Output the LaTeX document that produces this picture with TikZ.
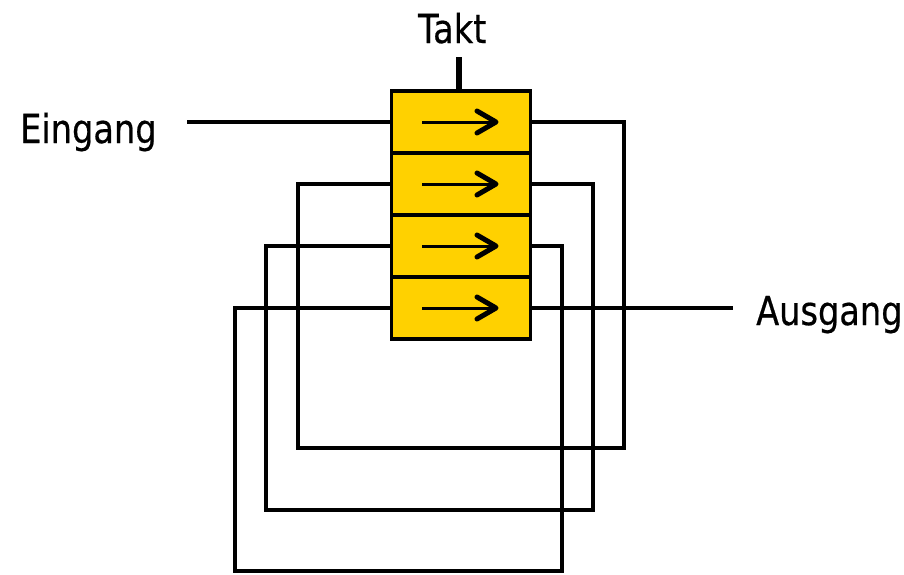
\documentclass[tikz,border=0pt]{standalone}
\usepackage{fontspec}
\setmainfont{DejaVu Sans}[FakeStretch=0.84,FakeBold=0.5]
\definecolor{cellyellow}{HTML}{FFD100}
\tikzset{
  cell/.style={draw=black, line width=3.6pt, fill=cellyellow, minimum width=139pt, minimum height=62pt, inner sep=0pt},
  wire/.style={draw=black, line width=3.6pt},
  lbl/.style={inner sep=0pt, anchor=base west, font=\fontsize{40}{48}\selectfont},
  shaft/.style={line width=3pt},
  barb/.style={line width=5pt, line cap=round, line join=round}
}
\begin{document}
\begin{tikzpicture}[x=1pt,y=-1pt]
\useasboundingbox (0,0) rectangle (904,574);
% cells
\node[cell] (r1) at (461,122) {};
\node[cell] (r2) at (461,184) {};
\node[cell] (r3) at (461,246) {};
\node[cell] (r4) at (461,308) {};
% arrows inside cells
\foreach \r in {r1,r2,r3,r4}{
  \draw[shaft] ([xshift=-39pt]\r.center) -- ([xshift=34pt]\r.center);
  \draw[barb] ([xshift=16pt,yshift=11pt]\r.center) -- ([xshift=35pt]\r.center) -- ([xshift=16pt,yshift=-11pt]\r.center);
}
% labels
\node[lbl] (takt) at (418,43) {Takt};
\node[lbl] (ein) at (20,143) {Eingang};
\node[lbl] (aus) at (756,325) {Ausgang};
% clock line
\coordinate (taktend) at (459,57);
\draw[line width=5.5pt] (taktend) -- (taktend |- r1.north);
% input / output
\coordinate (einend) at (187,122);
\coordinate (ausend) at (733,308);
\draw[wire] (einend) -- (r1.west);
\draw[wire] (r4.east) -- (ausend);
% feedback wires
\draw[wire] (r1.east) -| (624,448) -| (298,184) -- (r2.west);
\draw[wire] (r2.east) -| (593,510) -| (266,246) -- (r3.west);
\draw[wire] (r3.east) -| (562,571) -| (235,308) -- (r4.west);
\end{tikzpicture}
\end{document}
